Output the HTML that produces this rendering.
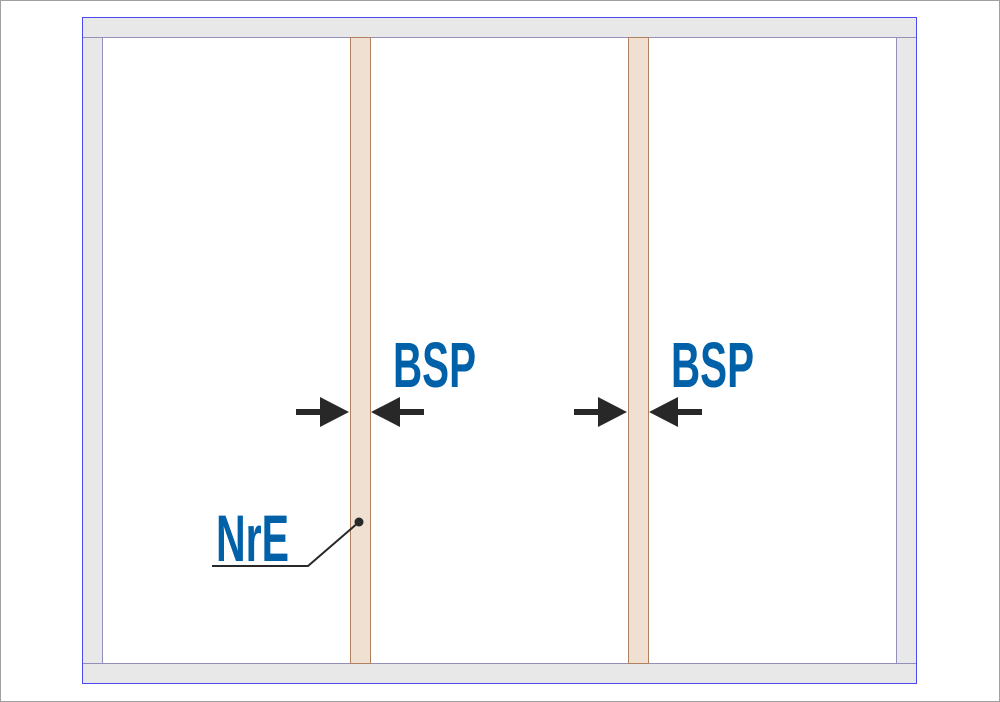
<!DOCTYPE html>
<html><head><style>
html,body{margin:0;padding:0;background:#fff;}
svg{display:block;}
text{font-family:"Liberation Sans Narrow","Liberation Sans",sans-serif;font-weight:bold;fill:#0060a8;}
</style></head><body>
<svg width="1000" height="702" viewBox="0 0 1000 702" xmlns="http://www.w3.org/2000/svg">
<rect x="0.5" y="0.5" width="999" height="701" fill="#fff" stroke="#a0a0a0" stroke-width="1"/>
<!-- frame -->
<rect x="82.5" y="17.5" width="834" height="666" fill="#e8e8e8"/>
<rect x="102.5" y="37.5" width="794" height="626" fill="#fff"/>
<g stroke="#9090b8" stroke-width="1" fill="none">
<line x1="82" y1="37.5" x2="917" y2="37.5"/>
<line x1="82" y1="663.5" x2="917" y2="663.5"/>
<line x1="102.5" y1="37.5" x2="102.5" y2="663.5"/>
<line x1="896.5" y1="37.5" x2="896.5" y2="663.5"/>
</g>
<rect x="82.5" y="17.5" width="834" height="666" fill="none" stroke="#4a4af0" stroke-width="1"/>
<!-- studs -->
<rect x="350.5" y="37.5" width="20" height="626" fill="#f0e0d2" stroke="#b08060" stroke-width="1"/>
<rect x="628.5" y="37.5" width="20" height="626" fill="#f0e0d2" stroke="#b08060" stroke-width="1"/>
<g fill="#282828">
<rect x="296" y="409" width="26" height="6"/>
<polygon points="320,397 349,412 320,427"/>
<rect x="398" y="409" width="26" height="6"/>
<polygon points="400,397 371,412 400,427"/>
<rect x="574" y="409" width="26" height="6"/>
<polygon points="598,397 627,412 598,427"/>
<rect x="676" y="409" width="26" height="6"/>
<polygon points="678,397 649,412 678,427"/>
</g>
<text x="393" y="387" font-size="64" textLength="83" lengthAdjust="spacingAndGlyphs">BSP</text>
<text x="671" y="387" font-size="64" textLength="83" lengthAdjust="spacingAndGlyphs">BSP</text>
<text x="216" y="561" font-size="66" textLength="73" lengthAdjust="spacingAndGlyphs">NrE</text>
<polyline points="212,566 308,566 359,522" fill="none" stroke="#282828" stroke-width="2"/>
<circle cx="359" cy="522" r="4.5" fill="#282828"/>
</svg>
</body></html>
